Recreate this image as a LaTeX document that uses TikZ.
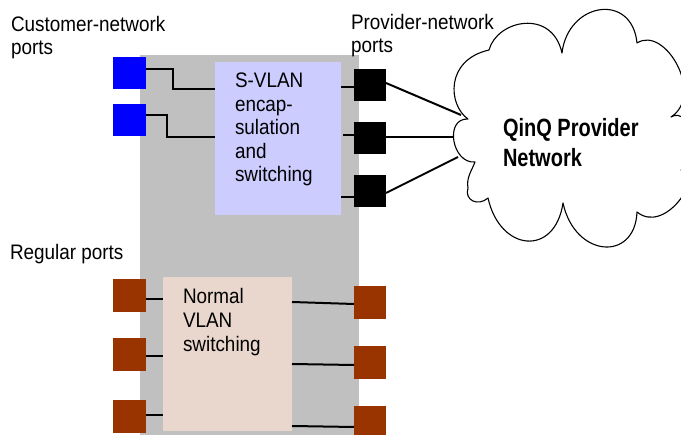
\documentclass[tikz,border=0pt]{standalone}
\usepackage{fontspec}
\setmainfont{Liberation Sans}[FakeStretch=0.9]
\newfontfamily\qfont{Liberation Sans}[FakeStretch=0.8]
\usetikzlibrary{calc}
\definecolor{grayb}{RGB}{192,192,192}
\definecolor{lav}{RGB}{204,204,255}
\definecolor{peach}{RGB}{233,215,205}
\definecolor{brownp}{RGB}{153,51,0}
\definecolor{bluep}{RGB}{0,0,255}
\begin{document}
\begin{tikzpicture}[x=1pt,y=-1pt,
  box/.style={anchor=north west, inner sep=0pt, outer sep=0pt},
  port/.style={box, minimum width=33pt, minimum height=32pt},
  bport/.style={port, fill=bluep},
  kport/.style={port, fill=black},
  rport/.style={port, fill=brownp},
  lbl/.style={anchor=north west, inner sep=0pt, outer sep=0pt, align=left, font=\fontsize{21}{23.5}\selectfont},
  wire/.style={line width=2pt, black},
  cloudline/.style={line width=1.1pt, black, fill=white, line join=round},
]
\useasboundingbox (0,0) rectangle (681,435);
\clip (0,0) rectangle (681,435);

% switch body and functional blocks
\node[box, fill=grayb, minimum width=219pt, minimum height=385pt] (sw) at (140,55) {};
\node[box, fill=lav, minimum width=126pt, minimum height=153pt] (sv) at (215,62) {};
\node[box, fill=peach, minimum width=129pt, minimum height=154pt] (nv) at (163,277) {};

% ports
\node[bport] (b1) at (113,57) {};
\node[bport] (b2) at (113,104) {};
\node[kport, minimum width=32pt] (p1) at (354,69) {};
\node[kport, minimum width=32pt] (p2) at (354,122) {};
\node[kport, minimum width=32pt] (p3) at (354,175) {};
\node[rport, minimum height=33pt] (l1) at (113,279) {};
\node[rport, minimum height=33pt] (l2) at (113,338) {};
\node[rport, minimum height=33pt] (l3) at (113,400) {};
\node[rport, minimum width=32pt, minimum height=33pt] (r1) at (354,286) {};
\node[rport, minimum width=32pt, minimum height=33pt] (r2) at (354,346) {};
\node[rport, minimum width=32pt, minimum height=33pt] (r3) at (354,406) {};

% cloud
\draw[cloudline] (468,119)
  .. controls (448,105) and (445,60) .. (489,50)
  .. controls (497,20) and (552,8) .. (562,53)
  .. controls (568,2) and (632,-8) .. (637,43)
  .. controls (665,25) and (705,95) .. (671,117)
  .. controls (690,105) and (705,160) .. (681,170)
  .. controls (705,175) and (665,235) .. (637,212)
  .. controls (635,262) and (575,258) .. (563,203)
  .. controls (555,257) and (500,252) .. (488,198)
  .. controls (478,207) and (464,200) .. (468,188)
  .. controls (466,178) and (472,170) .. (475,162)
  .. controls (452,164) and (444,118) .. (468,119) -- cycle;
\coordinate (c1) at (461,115);
\coordinate (c2) at (453,137);
\coordinate (c3) at (458,157);

% wires
\draw[wire] ([yshift=4pt]b1.east) -- ++(27,0) |- ($(sv.north west)+(0,27)$);
\draw[wire] ([yshift=5pt]b2.east) -- ++(21,0) |- ($(sv.north west)+(0,75)$);
\draw[wire] ($(sv.north east)+(0,25)$) -- ($(p1.north west)+(0,18)$);
\draw[wire] ($(sv.north east)+(2,73)$) -- ($(p2.north west)+(0,13)$);
\draw[wire] ($(sv.north east)+(0,135)$) -- ($(p3.north west)+(0,22)$);
\draw[wire] ($(p1.north east)+(0,14)$) -- (c1);
\draw[wire] ($(p2.north east)+(0,15)$) -- (c2);
\draw[wire] ($(p3.north east)+(0,18)$) -- (c3);
\draw[wire] ($(l1.north east)+(0,20)$) -- ($(nv.north west)+(0,22)$);
\draw[wire] ($(l2.north east)+(0,18)$) -- ($(nv.north west)+(0,79)$);
\draw[wire] ($(l3.north east)+(0,15)$) -- ($(nv.north west)+(0,138)$);
\draw[wire] ($(nv.north east)+(0,25)$) -- ($(r1.north west)+(0,18)$);
\draw[wire] ($(nv.north east)+(0,87)$) -- ($(r2.north west)+(0,19)$);
\draw[wire] ($(nv.north east)+(0,149)$) -- ($(r3.north west)+(0,21)$);

% texts
\node[lbl] (custl) at (11,16) {Customer-network\\ports};
\node[lbl] (provl) at (351,14) {Provider-network\\ports};
\node[lbl] (regl) at (10,244.5) {Regular ports};
\node[lbl] (svt) at (235,73) {S-VLAN\\encap-\\sulation\\and\\switching};
\node[lbl, font=\fontsize{21}{24}\selectfont] (nvt) at (183,288) {Normal\\VLAN\\switching};
\node[lbl, font=\qfont\bfseries\fontsize{25}{30}\selectfont] (qt) at (503,118.5) {QinQ Provider\\Network};
\end{tikzpicture}
\end{document}
